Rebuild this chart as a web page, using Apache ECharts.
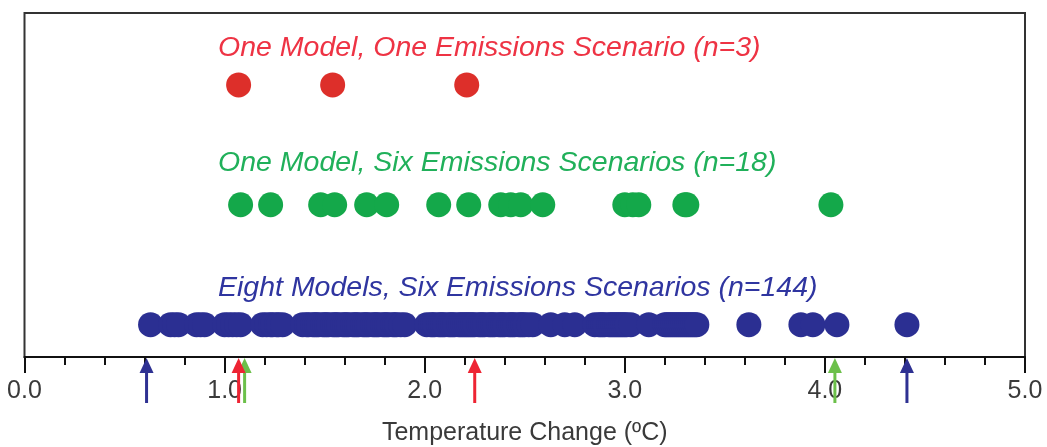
<!DOCTYPE html>
<html>
<head>
<meta charset="utf-8">
<script src="https://cdn.jsdelivr.net/npm/echarts@6/dist/echarts.min.js"></script>
<style>
  html, body { margin: 0; padding: 0; background: #fff; }
  #chart { width: 1047px; height: 447px; }
</style>
</head>
<body>
<div id="chart"></div>
<script>
// ---- data ----
const xTicks = [0, 1, 2, 3, 4, 5];
const rowLabels = [
  'One Model, One Emissions Scenario (n=3)',
  'One Model, Six Emissions Scenarios (n=18)',
  'Eight Models, Six Emissions Scenarios (n=144)'
];
const rowLevel = [3, 2, 1];   // row order (top to bottom)

const redValues = [1.07, 1.54, 2.21];

const greenValues = [1.08, 1.23, 1.48, 1.55, 1.71, 1.81, 2.07, 2.22, 2.38, 2.43,
  2.48, 2.59, 3.00, 3.04, 3.07, 3.30, 3.31, 4.03];

const blueValues = [
  0.63, 0.73, 0.75, 0.77, 0.86, 0.88, 0.90, 1.00, 1.02, 1.04, 1.06, 1.08,
  1.19, 1.21, 1.23, 1.24, 1.26, 1.27, 1.29,
  1.39, 1.41, 1.42, 1.44, 1.45, 1.46, 1.47, 1.49, 1.50, 1.51, 1.52, 1.54, 1.55, 1.56,
  1.57, 1.59, 1.60, 1.61, 1.62, 1.64, 1.65, 1.66, 1.67, 1.69, 1.70, 1.71, 1.72, 1.74,
  1.75, 1.76, 1.77, 1.79, 1.80, 1.81, 1.82, 1.84, 1.85, 1.86, 1.88, 1.90,
  2.01, 2.03, 2.04, 2.05, 2.07, 2.08, 2.09, 2.10, 2.12, 2.13, 2.14, 2.15, 2.17, 2.18,
  2.19, 2.20, 2.21, 2.22, 2.23, 2.24, 2.25, 2.27, 2.28, 2.29, 2.30, 2.32, 2.33, 2.34,
  2.35, 2.37, 2.38, 2.39, 2.40, 2.42, 2.43, 2.44, 2.45, 2.47, 2.48, 2.49, 2.50, 2.52, 2.54,
  2.63, 2.70, 2.75,
  2.85, 2.87, 2.88, 2.89, 2.90, 2.92, 2.93, 2.94, 2.95, 2.96, 2.97, 2.98, 2.99, 3.00, 3.01, 3.03,
  3.12,
  3.20, 3.21, 3.22, 3.23, 3.24, 3.25, 3.26, 3.27, 3.28, 3.29, 3.30, 3.31, 3.32, 3.33, 3.34, 3.35, 3.36,
  3.62, 3.88, 3.94, 4.06, 4.41
];

// range markers (arrows under the axis)
const blueArrows = [0.61, 4.41];
const greenArrows = [1.10, 4.05];
const redArrows = [1.07, 2.25];

// ---- styles ----
const RED = '#dd2f2a', GREEN = '#14a84a', BLUE = '#2b2f92';
const RED_TXT = '#ee3344', GREEN_TXT = '#20b05a', BLUE_TXT = '#2f35a0';
const RED_ARROW = '#ee2433', GREEN_ARROW = '#6cc04a', BLUE_ARROW = '#2e3192';

function arrowSeries(vals, color) {
  return {
    type: 'custom',
    data: vals.map(v => [v, 1]),
    clip: false,
    silent: true,
    z: 5,
    renderItem: function (params, api) {
      const cs = params.coordSys;
      const x = api.coord([api.value(0), 1])[0];
      const y = cs.y + cs.height;
      return {
        type: 'group',
        children: [
          { type: 'line', shape: { x1: x, y1: y + 10, x2: x, y2: y + 46 },
            style: { stroke: color, lineWidth: 3 } },
          { type: 'polygon', shape: { points: [[x, y + 1], [x - 7, y + 16], [x + 7, y + 16]] },
            style: { fill: color } }
        ]
      };
    }
  };
}

function dotSeries(vals, level, color, size) {
  return {
    type: 'scatter',
    data: vals.map(v => [v, level]),
    symbol: 'circle',
    symbolSize: size,
    itemStyle: { color: color, opacity: 1 },
    silent: true,
    z: 3
  };
}

const chart = echarts.init(document.getElementById('chart'), null, { renderer: 'canvas' });

const labelColors = [RED_TXT, GREEN_TXT, BLUE_TXT];
const labelTops = [34, 149, 274];

chart.setOption({
  animation: false,
  backgroundColor: '#ffffff',
  grid: {
    left: 24.5, right: 22, top: 13, bottom: 90,
    outerBoundsMode: 'none',
    containLabel: false,
    show: true, borderColor: '#333', borderWidth: 2, backgroundColor: 'transparent'
  },
  xAxis: {
    type: 'value',
    min: xTicks[0], max: xTicks[xTicks.length - 1], interval: 1,
    name: 'Temperature Change (ºC)',
    nameLocation: 'middle',
    nameGap: 64,
    nameTextStyle: { fontFamily: 'Liberation Sans, Arial, sans-serif', fontSize: 25, color: '#3a3a3a' },
    axisLine: { show: true, lineStyle: { color: '#111', width: 2 } },
    axisTick: { show: true, inside: false, length: 16, lineStyle: { color: '#111', width: 2 } },
    minorTick: { show: true, splitNumber: 5, length: 8, lineStyle: { color: '#111', width: 2 } },
    splitLine: { show: false },
    axisLabel: {
      margin: 22,
      fontFamily: 'Liberation Sans, Arial, sans-serif',
      fontSize: 25,
      color: '#3a3a3a',
      formatter: v => v.toFixed(1)
    }
  },
  yAxis: {
    type: 'value', min: 0.73, max: 3.6,
    show: false
  },
  graphic: rowLabels.map((t, i) => ({
    type: 'text',
    left: 218,
    top: labelTops[i],
    style: {
      text: t,
      font: 'italic 28.5px "Liberation Sans", Arial, sans-serif',
      fill: labelColors[i]
    }
  })),
  series: [
    dotSeries(redValues, rowLevel[0], RED, 25),
    dotSeries(greenValues, rowLevel[1], GREEN, 25),
    dotSeries(blueValues, rowLevel[2], BLUE, 25),
    arrowSeries(blueArrows, BLUE_ARROW),
    arrowSeries(greenArrows, GREEN_ARROW),
    arrowSeries(redArrows, RED_ARROW)
  ]
});
</script>
</body>
</html>
